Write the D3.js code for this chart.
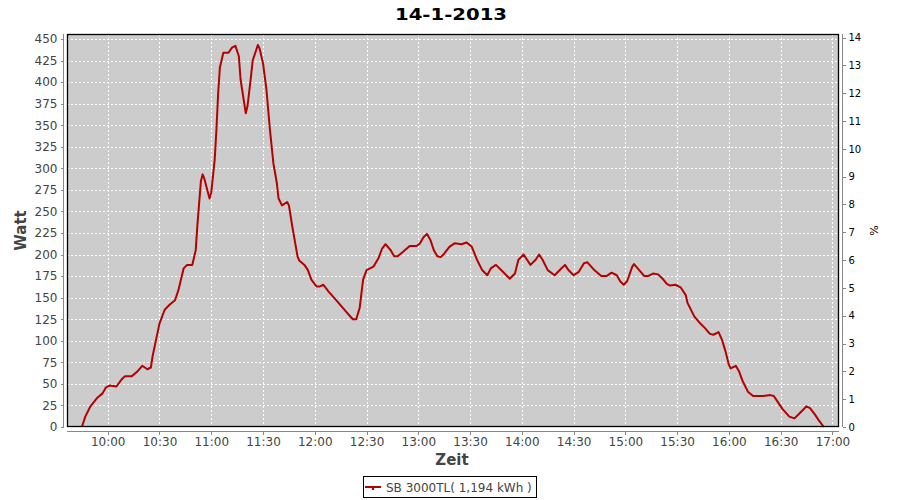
<!DOCTYPE html>
<html>
<head>
<meta charset="utf-8">
<script src="https://cdn.jsdelivr.net/npm/d3@7/dist/d3.min.js"></script>
<style>
  html, body { margin: 0; padding: 0; background: #ffffff; }
  svg { display: block; }
  text { font-family: "DejaVu Sans", sans-serif; }
</style>
</head>
<body>
<svg id="chart" width="900" height="500"></svg>
<script>
// ---- data ----
const chartTitle = "14-1-2013";
const seriesName = "SB 3000TL( 1,194 kWh )";
const times = [
  "9:45","9:47","9:50","9:54","9:57","9:59","10:01","10:05","10:08","10:10",
  "10:14","10:17","10:20","10:23","10:25","10:26","10:28","10:30","10:33","10:36",
  "10:39","10:41","10:44","10:46","10:49","10:51","10:52","10:54","10:55","10:56",
  "10:59","11:00","11:02","11:03","11:04","11:05","11:07","11:10","11:12","11:14",
  "11:16","11:17","11:18","11:20","11:21","11:23","11:24","11:27","11:28","11:30",
  "11:32","11:34","11:36","11:38","11:39","11:41","11:44","11:45","11:47","11:50",
  "11:51","11:54","11:56","11:58","12:01","12:03","12:05","12:08","12:12","12:15",
  "12:18","12:22","12:24","12:26","12:28","12:30","12:34","12:37","12:39","12:41",
  "12:44","12:46","12:48","12:51","12:55","12:59","13:01","13:03","13:05","13:07",
  "13:09","13:11","13:13","13:15","13:18","13:21","13:25","13:28","13:31","13:34",
  "13:37","13:40","13:42","13:45","13:48","13:51","13:53","13:56","13:58","14:01",
  "14:05","14:08","14:10","14:12","14:15","14:19","14:22","14:25","14:27","14:30",
  "14:33","14:36","14:38","14:42","14:46","14:49","14:52","14:55","14:57","14:59",
  "15:01","15:04","15:05","15:08","15:11","15:13","15:16","15:19","15:22","15:24",
  "15:26","15:29","15:32","15:35","15:36","15:40","15:43","15:46","15:49","15:51",
  "15:54","15:56","15:58","16:00","16:01","16:04","16:06","16:08","16:11","16:14",
  "16:20","16:24","16:26","16:28","16:31","16:35","16:38","16:41","16:45","16:47",
  "16:50","16:52","16:55"
];
const watts = [
  0,12,24,34,39,46,48,47,55,59,
  59,64,71,67,69,82,101,120,136,142,
  147,159,184,188,188,205,235,285,293,288,
  265,272,310,345,387,417,434,434,440,442,
  430,403,390,364,372,406,425,443,439,422,
  391,345,306,283,265,257,261,257,232,198,
  193,188,182,171,163,163,165,157,148,141,
  134,125,125,138,171,182,186,196,207,212,
  205,198,198,203,210,210,213,220,224,217,
  205,198,197,201,209,213,212,214,209,194,
  182,176,184,188,182,176,172,178,194,200,
  188,194,200,194,182,176,182,188,182,176,
  180,190,191,182,175,175,179,176,169,165,
  169,186,189,182,175,175,178,177,171,166,
  164,165,162,153,144,128,121,115,108,107,
  110,101,88,72,68,71,64,53,41,36,
  36,37,36,30,21,12,10,16,24,22,
  14,8,0
];
const wattTicks = [0,25,50,75,100,125,150,175,200,225,250,275,300,325,350,375,400,425,450];
const pctTicks = [0,1,2,3,4,5,6,7,8,9,10,11,12,13,14];
const timeTicks = ["10:00","10:30","11:00","11:30","12:00","12:30","13:00","13:30","14:00","14:30","15:00","15:30","16:00","16:30","17:00"];
const timeRange = ["9:36:24","17:03:48"];
const wattMax = 455.8;
const pctMax = 14.13;

// ---- layout ----
const L = 67, R = 839, T = 34, B = 427;
const parseHM = d3.timeParse("%H:%M");
const parseHMS = d3.timeParse("%H:%M:%S");
const fmt = d3.timeFormat("%H:%M");

const svg = d3.select("#chart");

const x = d3.scaleTime().domain(timeRange.map(parseHMS)).range([L, R]);
const y = d3.scaleLinear().domain([0, wattMax]).range([B, T]);
const y2 = d3.scaleLinear().domain([0, pctMax]).range([B, T]);

const data = times.map((t, i) => ({ t: parseHM(t), v: watts[i] }));

// plot background
svg.append("rect").attr("x", L).attr("y", T).attr("width", R - L).attr("height", B - T)
  .attr("fill", "#cccccc");

// gridlines
const grid = svg.append("g").attr("shape-rendering", "crispEdges")
  .attr("stroke", "#ffffff").attr("stroke-width", 1).attr("stroke-dasharray", "2,2");
grid.selectAll("line.h").data(wattTicks.filter(d => d > 0)).enter().append("line")
  .attr("x1", L).attr("x2", R).attr("y1", d => Math.round(y(d)) + 0.5).attr("y2", d => Math.round(y(d)) + 0.5);
grid.selectAll("line.v").data(timeTicks).enter().append("line")
  .attr("y1", T).attr("y2", B)
  .attr("x1", d => Math.round(x(parseHM(d))) + 0.5).attr("x2", d => Math.round(x(parseHM(d))) + 0.5);

// data line
const line = d3.line().x(d => x(d.t)).y(d => y(d.v));
svg.append("path").datum(data).attr("d", line)
  .attr("fill", "none").attr("stroke", "#b40000").attr("stroke-width", 2)
  .attr("stroke-linejoin", "round");

// plot border
svg.append("rect").attr("x", L + 0.5).attr("y", T + 0.5).attr("width", R - L - 1).attr("height", B - T - 1)
  .attr("fill", "none").attr("stroke", "#000000").attr("stroke-width", 1.3);

// axes
const axisColor = "#888888";
const leftAxis = svg.append("g").attr("transform", `translate(${L - 3.5},0)`)
  .call(d3.axisLeft(y).tickValues(wattTicks).tickSize(3).tickPadding(3));
const bottomAxis = svg.append("g").attr("transform", `translate(0,${B + 4.5})`)
  .call(d3.axisBottom(x).tickValues(timeTicks.map(parseHM)).tickFormat(fmt).tickSize(3).tickPadding(3));
const rightAxis = svg.append("g").attr("transform", `translate(${R + 3.5},0)`)
  .call(d3.axisRight(y2).tickValues(pctTicks).tickSize(3).tickPadding(3));

[leftAxis, bottomAxis, rightAxis].forEach(g => {
  g.selectAll(".domain").attr("stroke", axisColor).attr("shape-rendering", "crispEdges");
  g.selectAll(".tick line").attr("stroke", axisColor).attr("shape-rendering", "crispEdges");
});
leftAxis.select(".domain").attr("d", `M-0,${B}V${T}`);
rightAxis.select(".domain").attr("d", `M0,${B}V${T}`);
bottomAxis.select(".domain").attr("d", `M${L},0H${R}`);

leftAxis.selectAll(".tick text").attr("font-size", 12).attr("fill", "#444444")
  .attr("font-family", "DejaVu Sans");
bottomAxis.selectAll(".tick text").attr("font-size", 12).attr("fill", "#444444")
  .attr("font-family", "DejaVu Sans");
rightAxis.selectAll(".tick text").attr("font-size", 10).attr("fill", "#000000")
  .attr("font-family", "DejaVu Sans");

// axis titles
svg.append("text").attr("transform", `translate(26,${(T + B) / 2}) rotate(-90)`)
  .attr("text-anchor", "middle").attr("font-size", 15).attr("fill", "#444444")
  .attr("font-weight", "bold").text("Watt");
svg.append("text").attr("x", 452).attr("y", 465).attr("text-anchor", "middle")
  .attr("font-size", 15).attr("fill", "#444444").attr("font-weight", "bold").text("Zeit");
svg.append("text").attr("transform", `translate(870,${(T + B) / 2}) rotate(90)`)
  .attr("text-anchor", "middle").attr("font-size", 11).attr("fill", "#000000").text("%");

// title
svg.append("text").attr("x", 451).attr("y", 19.5).attr("text-anchor", "middle")
  .attr("font-size", 15).attr("font-weight", "bold").attr("fill", "#000000")
  .attr("textLength", 112).attr("lengthAdjust", "spacingAndGlyphs").text(chartTitle);

// legend
const lg = svg.append("g");
lg.append("rect").attr("x", 363.5).attr("y", 476.5).attr("width", 173).attr("height", 21)
  .attr("fill", "#ffffff").attr("stroke", "#000000").attr("stroke-width", 1);
lg.append("line").attr("x1", 365).attr("x2", 381).attr("y1", 487).attr("y2", 487)
  .attr("stroke", "#b40000").attr("stroke-width", 2);
lg.append("rect").attr("x", 372).attr("y", 488).attr("width", 2).attr("height", 2).attr("fill", "#b40000");
lg.append("text").attr("x", 386).attr("y", 491.5).attr("font-size", 12).attr("fill", "#444444")
  .text(seriesName);
</script>
</body>
</html>
